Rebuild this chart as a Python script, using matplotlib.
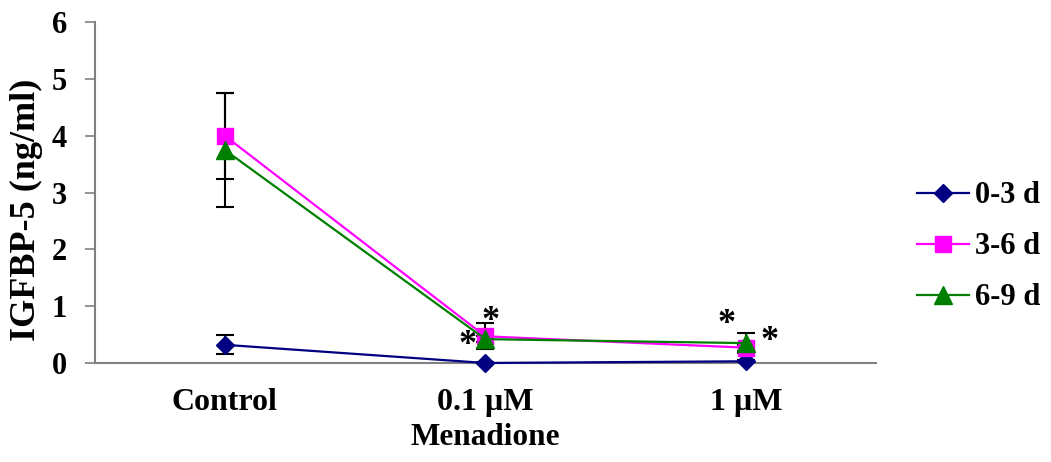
import matplotlib
matplotlib.use("Agg")
import matplotlib.pyplot as plt
import numpy as np

categories = ["Control", "0.1 µM", "1 µM"]
series_names = ["0-3 d", "3-6 d", "6-9 d"]
vals_03 = [0.32, 0.00, 0.03]
vals_36 = [4.00, 0.47, 0.27]
vals_69 = [3.75, 0.42, 0.35]
err_03 = [0.17, 0.02, 0.02]
err_36 = [0.76, 0.23, 0.05]
err_69 = [1.00, 0.05, 0.18]
yticks = [0, 1, 2, 3, 4, 5, 6]

plt.rcParams['font.family'] = ['Liberation Serif', 'DejaVu Serif']
plt.rcParams['font.weight'] = 'bold'
FS = 22

fig = plt.figure(figsize=(10.51, 4.62), dpi=100)
ax = fig.add_axes([0.0901, 0.2143, 0.8335 - 0.0901, 0.9517 - 0.2143])

x = np.arange(len(categories))
styles = [
    (vals_03, err_03, '#000080', 'D', 8.7),
    (vals_36, err_36, '#FF00FF', 's', 12),
    (vals_69, err_69, '#008000', '^', 12.5),
]
for vals, err, col, mk, ms in styles:
    ax.errorbar(x, vals, yerr=err, fmt='none', ecolor='black', elinewidth=1.5,
                capsize=6.5, capthick=1.5, zorder=2)
handles = []
for (vals, err, col, mk, ms), name in zip(styles, series_names):
    h, = ax.plot(x, vals, color=col, marker=mk, markersize=ms, linewidth=1.6,
                 markeredgecolor=col, label=name, zorder=3, clip_on=False)
    handles.append(h)

# significance stars
for sx, sy in [(0.93, 0.31), (1.02, 0.73), (1.925, 0.68), (2.09, 0.38)]:
    ax.text(sx, sy, '*', fontsize=26, fontweight='bold', ha='center', va='center', zorder=5)

ax.set_xlim(-0.5, 2.5)
ax.set_ylim(0, 6)
ax.set_yticks(yticks)
ax.set_xticks(x)
ax.set_xticklabels(categories, fontsize=23, fontweight='bold')
ax.set_yticklabels([str(t) for t in yticks], fontsize=FS, fontweight='bold')
ax.tick_params(axis='x', length=0, pad=18)
ax.tick_params(axis='y', length=7, width=1.2, color='#808080', pad=13, direction='out')

for side in ['top', 'right']:
    ax.spines[side].set_visible(False)
for side in ['left', 'bottom']:
    ax.spines[side].set_color('#808080')
    ax.spines[side].set_linewidth(1.5)

ax.set_xlabel('Menadione', fontsize=22.5, fontweight='bold', labelpad=4)
ax.set_ylabel('IGFBP-5 (ng/ml)', fontsize=26, fontweight='bold')
ax.yaxis.set_label_coords(-0.0662, 0.4494)

fig.legend(handles=handles, labels=series_names, loc='center left',
           bbox_to_anchor=(0.8725, 0.466), frameon=False,
           prop={'weight': 'bold', 'size': FS},
           handlelength=1.7, handletextpad=0.2, labelspacing=0.72,
           borderpad=0, borderaxespad=0)

fig.savefig('out.png', dpi=100)
